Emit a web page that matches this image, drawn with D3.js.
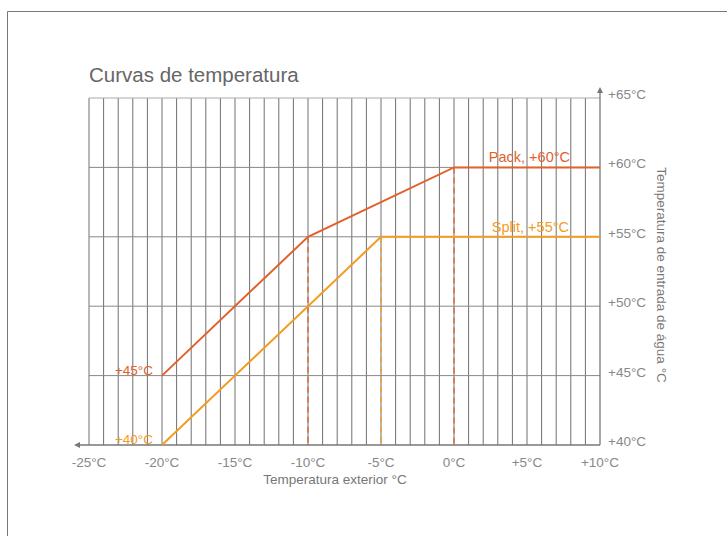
<!DOCTYPE html>
<html><head><meta charset="utf-8">
<script src="https://cdn.jsdelivr.net/npm/d3@7"></script>
<style>
body{margin:0;background:#fff;}
svg{display:block;font-family:"Liberation Sans",Arial,sans-serif;}
</style></head>
<body><svg id="c" width="727" height="536"></svg>
<script>
const title = "Curvas de temperatura";
const xTicks = [-25,-20,-15,-10,-5,0,5,10];
const xTickLabels = ["-25°C","-20°C","-15°C","-10°C","-5°C","0°C","+5°C","+10°C"];
const yTicks = [40,45,50,55,60,65];
const yTickLabels = ["+40°C","+45°C","+50°C","+55°C","+60°C","+65°C"];
const packX = [-20,-10,0,10];
const packY = [45,55,60,60];
const splitX = [-20,-5,10];
const splitY = [40,55,55];
const packDashX = [-10,0];
const splitDashX = [-5];
const xTitle = "Temperatura exterior °C";
const yTitle = "Temperatura de entrada de água °C";

const packColor = "#e2622b", splitColor = "#f39c22";
const svg = d3.select("#c");
const x = d3.scaleLinear().domain([-25,10]).range([89,600]);
const y = d3.scaleLinear().domain([40,65]).range([445,98]);

// frame
svg.append("path").attr("d","M7.5,536 V11.5 H727").attr("fill","none").attr("stroke","#777").attr("stroke-width",1);

// title
svg.append("text").attr("x",89).attr("y",82).attr("font-size",20.5).attr("fill","#666").text(title);

// vertical grid every 1°C
const g = svg.append("g");
g.selectAll("line.v").data(d3.range(-25,10,1)).join("line")
  .attr("x1",d=>x(d)).attr("x2",d=>x(d)).attr("y1",y(65)).attr("y2",y(40))
  .attr("stroke","#707070").attr("stroke-width",1);
// horizontal grid
g.selectAll("line.h").data(yTicks.slice(1)).join("line")
  .attr("x1",x(-25)).attr("x2",x(10)).attr("y1",d=>y(d)).attr("y2",d=>y(d))
  .attr("stroke",d=>d===65?"#aaa":"#888").attr("stroke-width",1);

// axes with arrows
svg.append("line").attr("x1",x(10)).attr("x2",77).attr("y1",y(40)).attr("y2",y(40)).attr("stroke","#777").attr("stroke-width",1.3);
svg.append("path").attr("d",`M74,${y(40)} l6,-3 v6 z`).attr("fill","#777");
svg.append("line").attr("x1",x(10)).attr("x2",x(10)).attr("y1",y(40)).attr("y2",90).attr("stroke","#777").attr("stroke-width",1.3);
svg.append("path").attr("d",`M${x(10)},87 l-3,6 h6 z`).attr("fill","#777");

// tick labels
svg.selectAll("text.xt").data(xTicks).join("text")
  .attr("x",d=>x(d)).attr("y",467).attr("text-anchor","middle")
  .attr("font-size",13.5).attr("fill","#888").text((d,i)=>xTickLabels[i]);
svg.selectAll("text.yt").data(yTicks).join("text")
  .attr("x",608).attr("y",d=>y(d)+1).attr("font-size",13.5).attr("fill","#888").text((d,i)=>yTickLabels[i]);

svg.append("text").attr("x",335).attr("y",484).attr("text-anchor","middle").attr("font-size",13.5).attr("fill","#777").text(xTitle);
svg.append("text").attr("transform","translate(657,275) rotate(90)").attr("text-anchor","middle")
  .attr("font-size",13.5).attr("fill","#777").text(yTitle);

// dashed drops
svg.selectAll("line.pd").data(packDashX).join("line")
  .attr("x1",d=>x(d)).attr("x2",d=>x(d))
  .attr("y1",d=>y(packY[packX.indexOf(d)])).attr("y2",y(40))
  .attr("stroke",packColor).attr("stroke-width",1.3).attr("stroke-dasharray","6,4");
svg.selectAll("line.sd").data(splitDashX).join("line")
  .attr("x1",d=>x(d)).attr("x2",d=>x(d))
  .attr("y1",d=>y(splitY[splitX.indexOf(d)])).attr("y2",y(40))
  .attr("stroke",splitColor).attr("stroke-width",1.3).attr("stroke-dasharray","6,4");

const line = d3.line().x(d=>x(d[0])).y(d=>y(d[1]));
svg.append("path").attr("d",line(splitX.map((v,i)=>[v,splitY[i]]))).attr("fill","none").attr("stroke",splitColor).attr("stroke-width",2);
svg.append("path").attr("d",line(packX.map((v,i)=>[v,packY[i]]))).attr("fill","none").attr("stroke",packColor).attr("stroke-width",2);

// labels
svg.append("text").attr("x",x(-20)-9).attr("y",y(45)-1).attr("text-anchor","end").attr("font-size",13.5).attr("fill",packColor).text("+45°C");
svg.append("text").attr("x",x(-20)-9).attr("y",y(40)-1).attr("text-anchor","end").attr("font-size",13.5).attr("fill",splitColor).text("+40°C");
svg.append("text").attr("x",570).attr("y",y(60)-5).attr("text-anchor","end").attr("font-size",14.5).attr("fill",packColor).text("Pack, +60°C");
svg.append("text").attr("x",569).attr("y",y(55)-5).attr("text-anchor","end").attr("font-size",14.5).attr("fill",splitColor).text("Split, +55°C");
</script></body></html>
